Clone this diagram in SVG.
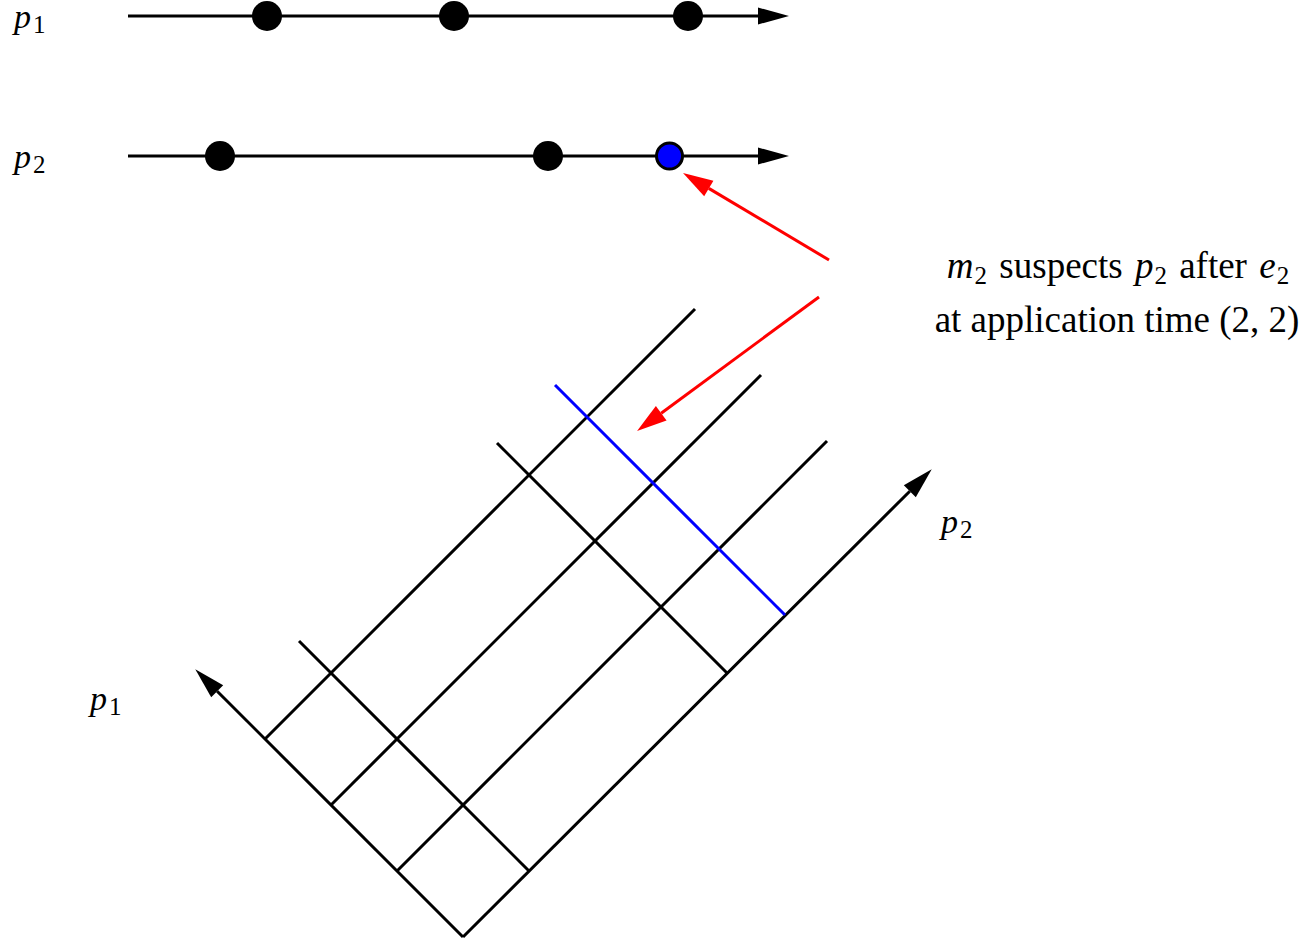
<svg xmlns="http://www.w3.org/2000/svg" width="1308" height="940" viewBox="0 0 1308 940">
<defs>
<style>
.ln{stroke:#000;stroke-width:3;fill:none}
.bl{stroke:#0000ff;stroke-width:3;fill:none}
.rd{stroke:#ff0000;stroke-width:3;fill:none}
.dot{fill:#000}
.t{font-family:"Liberation Serif","Times New Roman",serif;font-size:34px;fill:#000}
.a{font-family:"Liberation Serif","Times New Roman",serif;font-size:37px;fill:#000}
.it{font-style:italic}
.sub{font-size:25px}
</style>
<marker id="ak" markerUnits="userSpaceOnUse" markerWidth="32" markerHeight="20" refX="0" refY="0" viewBox="0 -10 32 20" orient="auto" overflow="visible">
<path d="M0,-8.5 L31,0 L0,8.5 z" fill="#000"/>
</marker>
<marker id="ar" markerUnits="userSpaceOnUse" markerWidth="32" markerHeight="20" refX="0" refY="0" viewBox="0 -10 32 20" orient="auto" overflow="visible">
<path d="M0,-9 L30,0 L0,9 z" fill="#ff0000"/>
</marker>
</defs>
<rect width="1308" height="940" fill="#fff"/>

<g id="connectors">
<line class="ln" x1="128" y1="16" x2="758" y2="16" marker-end="url(#ak)"/>
<line class="ln" x1="128" y1="156" x2="758" y2="156" marker-end="url(#ak)"/>
<line class="rd" x1="829" y1="260" x2="708.8" y2="188.4" marker-end="url(#ar)"/>
<line class="rd" x1="819" y1="297" x2="661.2" y2="413.2" marker-end="url(#ar)"/>
</g>

<g id="lattice">
<line class="ln" x1="463" y1="937" x2="217.2" y2="691.2" marker-end="url(#ak)"/>
<line class="ln" x1="463" y1="937" x2="909.8" y2="491.2" marker-end="url(#ak)"/>
<line class="ln" x1="397" y1="871" x2="827" y2="441"/>
<line class="ln" x1="331" y1="805" x2="761" y2="375"/>
<line class="ln" x1="265" y1="739" x2="695" y2="309"/>
<line class="ln" x1="529" y1="871" x2="299" y2="641"/>
<line class="ln" x1="727" y1="673" x2="497" y2="443"/>
<line class="bl" x1="785" y1="615" x2="555" y2="385"/>
</g>

<g id="p1-events">
<circle class="dot" cx="267" cy="16" r="15"/>
<circle class="dot" cx="454" cy="16" r="15"/>
<circle class="dot" cx="688" cy="16" r="15"/>
</g>
<g id="p2-events">
<circle class="dot" cx="220" cy="156" r="15"/>
<circle class="dot" cx="548" cy="156" r="15"/>
<circle cx="669.5" cy="156" r="13" fill="#0000ff" stroke="#000" stroke-width="3"/>
</g>

<g id="labels">
<text class="t" x="14" y="28"><tspan class="it">p</tspan><tspan class="sub" dx="2" dy="5">1</tspan></text>
<text class="t" x="14" y="168"><tspan class="it">p</tspan><tspan class="sub" dx="2" dy="5">2</tspan></text>
<text class="t" x="90" y="710"><tspan class="it">p</tspan><tspan class="sub" dx="2" dy="5">1</tspan></text>
<text class="t" x="941" y="533"><tspan class="it">p</tspan><tspan class="sub" dx="2" dy="5">2</tspan></text>
</g>

<g id="annotation">
<text class="a" x="1118" y="278" text-anchor="middle" word-spacing="3"><tspan class="it">m</tspan><tspan class="sub" dx="1" dy="6">2</tspan><tspan dy="-6"> suspects </tspan><tspan class="it">p</tspan><tspan class="sub" dx="1" dy="6">2</tspan><tspan dy="-6"> after </tspan><tspan class="it">e</tspan><tspan class="sub" dx="1" dy="6">2</tspan></text>
<text class="a" x="1117" y="332" text-anchor="middle">at application time (2, 2)</text>
</g>
</svg>
